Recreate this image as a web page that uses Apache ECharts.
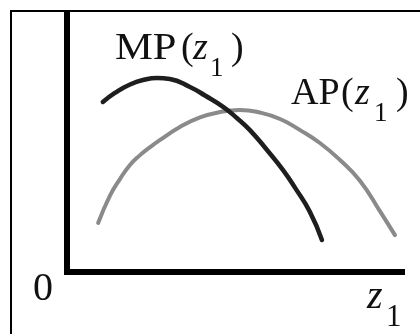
<!DOCTYPE html>
<html>
<head>
<meta charset="utf-8">
<style>
  html, body { margin: 0; padding: 0; background: #fff; }
  #chart { width: 420px; height: 334px; }
</style>
<script src="https://cdn.jsdelivr.net/npm/echarts@6/dist/echarts.min.js"></script>
</head>
<body>
<div id="chart"></div>
<script>
// Input z1 (horizontal) and product (vertical), arbitrary units 0..100
const mpCurve = [
  [10.7, 65.9], [14.3, 69.4], [18.8, 72.7], [23.3, 74.6], [26.9, 75.2],
  [30.7, 74.8], [36.7, 71.7], [41.2, 68.4], [46.6, 64.0], [50.7, 59.7],
  [54.6, 55.0], [59.7, 47.3], [64.5, 39.5], [68.1, 32.6], [72.5, 23.3],
  [76.1, 12.4]
];
const apCurve = [
  [9.3, 19.0], [12.8, 29.5], [15.8, 36.0], [18.8, 41.5], [21.8, 45.3],
  [24.8, 48.4], [27.8, 51.2], [33.7, 56.2], [39.7, 59.9], [45.7, 62.0],
  [51.6, 62.8], [57.6, 61.8], [63.6, 59.3], [69.6, 55.0], [75.5, 50.0],
  [81.5, 43.4], [87.5, 35.3], [93.4, 23.6], [97.9, 14.3]
];
const curveNames = ['MP', 'AP'];
const subscriptText = '1';
const variableText = 'z';
const originText = '0';

const serif = '"Liberation Serif", "Times New Roman", serif';
const chart = echarts.init(document.getElementById('chart'), null, { renderer: 'canvas' });

function txt(x, y, text, size, italic, sx) {
  return {
    type: 'text', x: x, y: y, z: 10, scaleX: sx || 1,
    style: {
      text: text,
      font: (italic ? 'italic ' : '') + size + 'px ' + serif,
      fill: '#111',
      textAlign: 'left',
      textVerticalAlign: 'middle'
    }
  };
}

// A label like "MP(z1)": name, "(", italic z, subscript 1, ")"
function funcLabel(name, pos) {
  return [
    txt(pos.x, pos.y, name, 38, false, pos.sx),
    txt(pos.open, pos.y, '(', 38, false),
    txt(pos.zx, pos.y, variableText, 38, true),
    txt(pos.subx, pos.suby, subscriptText, 27, false),
    txt(pos.close, pos.y, ')', 38, false)
  ];
}

const axisStyle = {
  show: true,
  lineStyle: { color: '#000', width: 6, cap: 'square' }
};

const option = {
  animation: false,
  backgroundColor: '#fff',
  grid: { left: 67, right: 18, top: 14, bottom: 62 },
  xAxis: {
    type: 'value', min: 0, max: 100,
    axisLine: axisStyle, axisTick: { show: false },
    axisLabel: { show: false }, splitLine: { show: false }
  },
  yAxis: {
    type: 'value', min: 0, max: 100,
    axisLine: axisStyle, axisTick: { show: false },
    axisLabel: { show: false }, splitLine: { show: false }
  },
  series: [
    {
      name: curveNames[1], type: 'line', data: apCurve, smooth: 0.5,
      showSymbol: false, lineStyle: { color: '#8a8a8a', width: 4, cap: 'round' }, z: 2
    },
    {
      name: curveNames[0], type: 'line', data: mpCurve, smooth: 0.5,
      showSymbol: false, lineStyle: { color: '#1e1e1e', width: 4.5, cap: 'round' }, z: 3
    }
  ],
  graphic: [
    // frame edges
    { type: 'line', shape: { x1: 10, y1: 11, x2: 420, y2: 11 }, style: { stroke: '#000', lineWidth: 2 } },
    { type: 'line', shape: { x1: 11, y1: 10, x2: 11, y2: 334 }, style: { stroke: '#000', lineWidth: 2 } },
    ...funcLabel(curveNames[0], { x: 115, y: 49, sx: 1.12, open: 181, zx: 193, subx: 210, suby: 69, close: 231 }),
    ...funcLabel(curveNames[1], { x: 291, y: 94, sx: 1, open: 341, zx: 355, subx: 374, suby: 114, close: 396 }),
    txt(33, 289, originText, 40, false),
    txt(367, 297, variableText, 40, true),
    txt(386, 318, subscriptText, 31, false)
  ]
};
chart.setOption(option);
</script>
</body>
</html>
